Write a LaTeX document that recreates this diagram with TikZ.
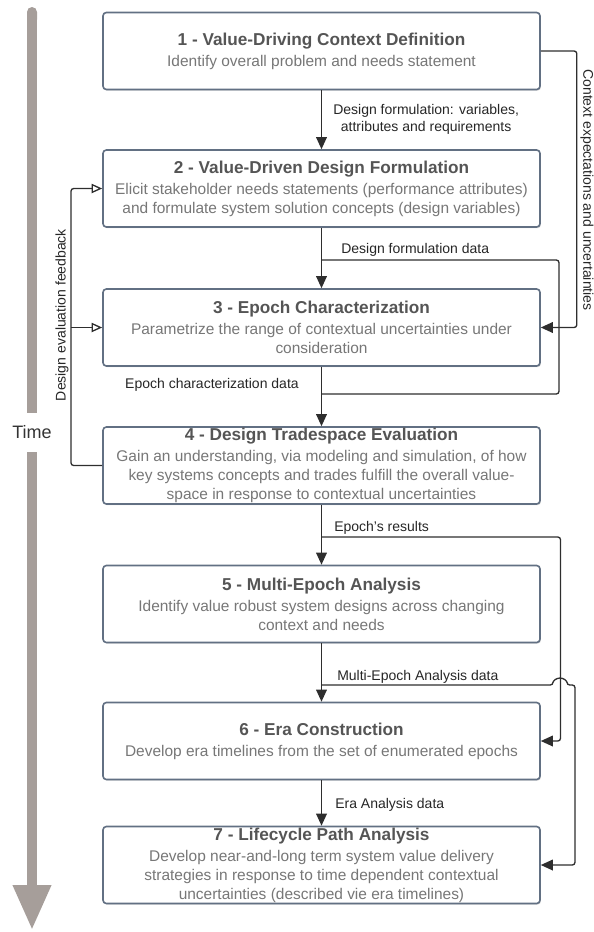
\documentclass[tikz,border=0pt]{standalone}
\usepackage{fontspec}
\setmainfont{Liberation Sans}
\usetikzlibrary{arrows.meta, shadows}

\definecolor{boxedge}{HTML}{627083}
\definecolor{titlegray}{HTML}{555555}
\definecolor{bodygray}{HTML}{777777}
\definecolor{linegray}{HTML}{2E2E2E}
\definecolor{timegray}{HTML}{A69E9A}

\newcommand{\stagehead}[1]{{\fontsize{12.9}{15.5}\selectfont\bfseries\color{titlegray}#1}}

\tikzset{
    stagebox/.style={rectangle, rounded corners=2.5pt, minimum width=327.75pt, minimum height=57.75pt, inner sep=0pt, align=center, draw=boxedge, line width=1.2pt, fill=white, text=bodygray, font=\fontsize{11.6}{14.2}\selectfont, drop shadow={shadow xshift=0.7pt, shadow yshift=-0.9pt, opacity=0.3}},
    flowline/.style={draw=linegray, line width=1pt, rounded corners=2pt},
    flowarrow/.style={flowline, -{Triangle[length=9pt, width=8pt]}},
    feedarrow/.style={flowline, -{Triangle[open, length=8pt, width=7pt]}},
    flowlabel/.style={font=\fontsize{10.5}{13}\selectfont, text=black!85, inner sep=0pt},
    timeshaft/.style={draw=timegray, line width=7.5pt},
    timelabel/.style={font=\fontsize{13.5}{16}\selectfont, text=black!80, minimum height=29.25pt, inner sep=0pt}
}

\begin{document}
\begin{tikzpicture}[x=0.75pt, y=-0.75pt]
    \useasboundingbox (0,0) rectangle (593,932);

    % Time axis
    \node[timelabel] (time) at (32,432.5) {Time};
    \draw[timeshaft, {Round Cap[]}-] (32,7) -- (time.north);
    \draw[timeshaft, -{Triangle[length=33.75pt, width=27pt]}] (time.south) -- (32,930);

    % Stages
    \node[stagebox] (b1) at (321.5,51) {\stagehead{1 - Value-Driving Context Definition}\\[1.5pt]
        Identify overall problem and needs statement};
    \node[stagebox] (b2) at (321.5,188.5) {\stagehead{2 - Value-Driven Design Formulation}\\[1.5pt]
        Elicit stakeholder needs statements (performance attributes)\\
        and formulate system solution concepts (design variables)};
    \node[stagebox] (b3) at (321.5,327.5) {\stagehead{3 - Epoch Characterization}\\[1.5pt]
        Parametrize the range of contextual uncertainties under\\
        consideration};
    \node[stagebox] (b4) at (321.5,465.5) {\stagehead{4 - Design Tradespace Evaluation}\\[1.5pt]
        Gain an understanding, via modeling and simulation, of how\\
        key systems concepts and trades fulfill the overall value-\\
        space in response to contextual uncertainties};
    \node[stagebox] (b5) at (321.5,604) {\stagehead{5 - Multi-Epoch Analysis}\\[1.5pt]
        Identify value robust system designs across changing\\
        context and needs};
    \node[stagebox] (b6) at (321.5,741) {\stagehead{6 - Era Construction}\\[1.5pt]
        Develop era timelines from the set of enumerated epochs};
    \node[stagebox] (b7) at (321.5,865) {\stagehead{7 - Lifecycle Path Analysis}\\[1.5pt]
        Develop near-and-long term system value delivery\\
        strategies in response to time dependent contextual\\
        uncertainties (described vie era timelines)};

    % Branch points
    \coordinate (dfd) at (321.5,260);
    \coordinate (ecd) at (321.5,394);
    \coordinate (epr) at (321.5,537);
    \coordinate (mea) at (321.5,685);

    % Main flow
    \draw[flowarrow] (b1) -- (b2);
    \draw[flowarrow] (b2) -- (b3);
    \draw[flowarrow] (b3) -- (b4);
    \draw[flowarrow] (b4) -- (b5);
    \draw[flowarrow] (b5) -- (b6);
    \draw[flowarrow] (b6) -- (b7);

    % Side flows
    \draw[flowarrow] (b1.east) -- ++(36,0) |- (b3.east);
    \draw[flowline] (dfd) -- ++(237.5,0) |- (ecd);
    \draw[flowarrow] (epr) -- ++(239,0) |- (b6.east);
    \draw[flowarrow] (mea) -- (553,685) arc[start angle=180, end angle=360, radius=7] -- (575,685) |- (b7.east);

    % Feedback
    \draw[feedarrow] (b4.west) -- (71,465.5) |- (b2.west);
    \draw[feedarrow] (71,327.5) -- (b3.west);

    % Labels
    \node[flowlabel, align=center, anchor=west] (l1) at (333,119.5) {Design formulation: variables,\\attributes and requirements};
    \node[flowlabel, rotate=-90] (l2) at (587,190) {Context expectations and uncertainties};
    \node[flowlabel, anchor=west] (l3) at (341,250) {Design formulation data};
    \node[flowlabel, anchor=east] (l4) at (299,385) {Epoch characterization data};
    \node[flowlabel, rotate=90] (l5) at (62,315) {Design evaluation feedback};
    \node[flowlabel, anchor=west] (l6) at (334,528) {Epoch's results};
    \node[flowlabel, anchor=west] (l7) at (337,677) {Multi-Epoch Analysis data};
    \node[flowlabel, anchor=west] (l8) at (335,805) {Era Analysis data};
\end{tikzpicture}
\end{document}
